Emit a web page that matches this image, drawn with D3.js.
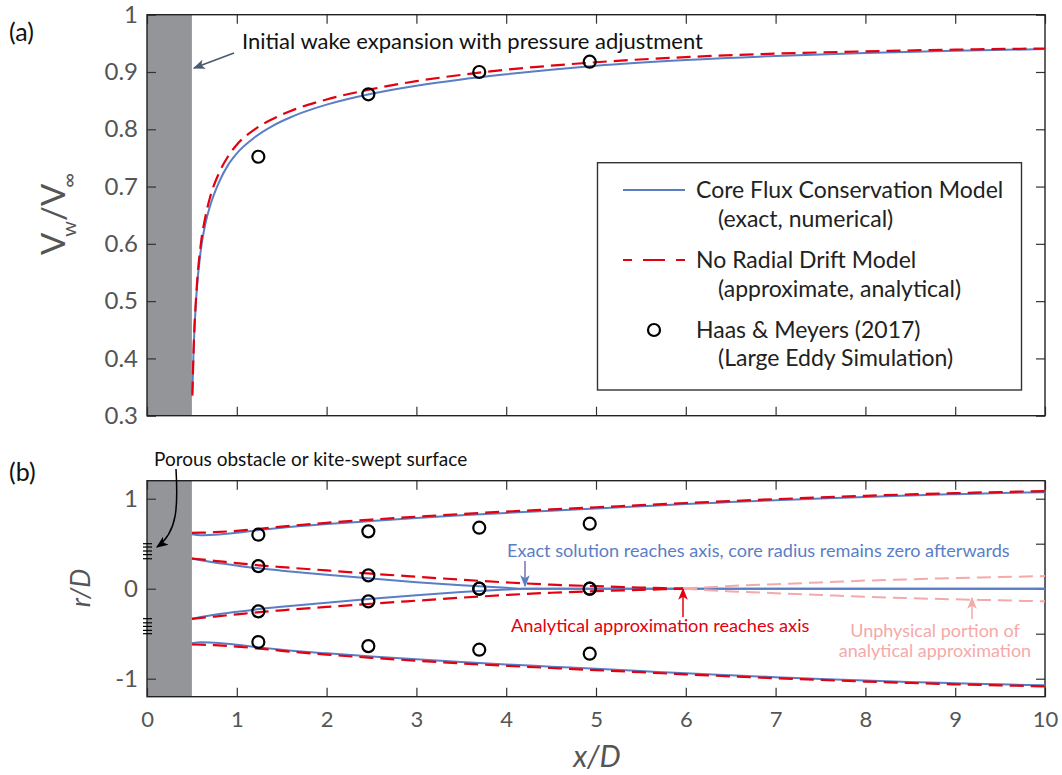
<!DOCTYPE html>
<html>
<head>
<meta charset="utf-8">
<script src="https://cdn.jsdelivr.net/npm/d3@7"></script>
<style>
body { margin: 0; background: #fff; }
svg text { font-family: Lato, 'Open Sans', sans-serif; }
</style>
</head>
<body>
<script>
// values
let xTicks = [0, 1, 2, 3, 4, 5, 6, 7, 8, 9, 10]
let aTicks = [0.3, 0.4, 0.5, 0.6, 0.7, 0.8, 0.9, 1]
let aTickLabels = ['0.3', '0.4', '0.5', '0.6', '0.7', '0.8', '0.9', '1']
let bTicks = [-1, 0, 1]
let bTickLabels = ['-1', '0', '1']
let bTicksRight = [-1, -0.5, 0, 0.5, 1]

// (a) wake velocity ratio
let xA =       [0.505, 0.52, 0.55, 0.6, 0.65, 0.7, 0.8, 0.9, 1.0, 1.2, 1.4, 1.6, 1.8, 2.0, 2.5, 3.0, 3.5, 4.0, 4.5, 5.0, 6.0, 7.0, 8.0, 9.0, 10]
let vCore =    [0.34, 0.42, 0.51, 0.59, 0.635, 0.665, 0.707, 0.737, 0.758, 0.786, 0.806, 0.821, 0.833, 0.843, 0.862, 0.876, 0.887, 0.896, 0.904, 0.911, 0.921, 0.928, 0.933, 0.937, 0.94]
let vNoDrift = [0.335, 0.42, 0.515, 0.6, 0.647, 0.68, 0.723, 0.752, 0.773, 0.8, 0.818, 0.832, 0.843, 0.852, 0.87, 0.884, 0.895, 0.904, 0.911, 0.917, 0.926, 0.932, 0.936, 0.939, 0.941]

// LES points (Haas & Meyers 2017)
let lesX =      [1.24, 2.465, 3.7, 4.93]
let lesV =      [0.752, 0.861, 0.9, 0.918]
let lesWakeUp = [0.6, 0.637, 0.678, 0.722]
let lesCoreUp = [0.251, 0.148, 0, 0]
let lesCoreLo = [-0.252, -0.141, 0, 0]
let lesWakeLo = [-0.593, -0.638, -0.678, -0.722]

// (b) wake radius (outer) and core radius (inner)
let xB =           [0.5, 0.6, 0.75, 1, 1.25, 1.5, 2, 2.5, 3, 3.5, 4, 4.5, 5, 5.5, 6, 6.5, 7, 7.5, 8, 8.5, 9, 9.5, 10]
let rWakeCore =    [0.605, 0.594, 0.6, 0.622, 0.652, 0.678, 0.718, 0.752, 0.785, 0.815, 0.842, 0.866, 0.89, 0.915, 0.94, 0.962, 0.983, 1.002, 1.02, 1.036, 1.05, 1.062, 1.073]
let rWakeNoDrift = [0.62, 0.622, 0.628, 0.643, 0.665, 0.69, 0.732, 0.768, 0.8, 0.83, 0.857, 0.881, 0.905, 0.928, 0.952, 0.974, 0.995, 1.014, 1.032, 1.048, 1.062, 1.074, 1.085]

let xCoreC = [0.5, 0.6, 0.75, 1, 1.25, 1.5, 2, 2.5, 3, 3.5, 4, 4.2, 10]
let rCoreC = [0.335, 0.315, 0.29, 0.257, 0.226, 0.2, 0.155, 0.112, 0.072, 0.037, 0.01, 0, 0]
let xCoreN = [0.5, 0.75, 1, 1.25, 1.5, 2, 2.5, 3, 3.5, 4, 4.5, 5, 5.5, 5.97]
let rCoreN = [0.335, 0.31, 0.285, 0.26, 0.24, 0.203, 0.167, 0.133, 0.1, 0.07, 0.045, 0.028, 0.013, 0]
let xUnphys = [5.97, 6.5, 7, 7.5, 8, 8.5, 9, 9.5, 10]
let rUnphys = [0, -0.03, -0.05, -0.07, -0.09, -0.105, -0.118, -0.129, -0.14]

// porous disk marks
let hatchR = [0.5, 0.463, 0.419, 0.379, 0.333]

let BLUE = '#5a7ec6'
let RED = '#e3000f'
let PALE = '#f5a9a9'
let GREY = '#939598'
let TICKTXT = '#555'

let svg = d3.select('body').append('svg').attr('width', 1062).attr('height', 775)
let defs = svg.append('defs')

function marker(id, color) {
	defs.append('marker').attr('id', id)
		.attr('viewBox', '0 0 10 10').attr('refX', 9).attr('refY', 5)
		.attr('markerWidth', 12).attr('markerHeight', 12)
		.attr('markerUnits', 'userSpaceOnUse').attr('orient', 'auto')
		.append('path').attr('d', 'M0,1 L10,5 L0,9 L2.5,5 Z').attr('fill', color)
}
marker('arSlate', '#4b5a6e')
marker('arBlack', '#000')
marker('arBlue', BLUE)
marker('arRed', RED)
marker('arPale', PALE)

let x = d3.scaleLinear().domain([0, 10]).range([147, 1045])
let yA = d3.scaleLinear().domain([0.3, 1]).range([415.7, 14.7])
let yB = d3.scaleLinear().domain([-1.2, 1.2]).range([696.7, 480.7])

function pts(xs, ys) { return xs.map((v, i) => [v, ys[i]]) }

function panel(y, leftTicks, leftLabels, rightTicks, showX) {
	let y0 = y.range()[0], y1 = y.range()[1]
	let g = svg.append('g')
	g.append('rect').attr('x', x(0)).attr('y', y1).attr('width', x(0.5) - x(0)).attr('height', y0 - y1)
		.attr('fill', GREY)

	let bottom = g.append('g').attr('transform', `translate(0,${y0})`)
		.call(d3.axisBottom(x).tickValues(xTicks).tickSize(-9).tickPadding(15)
			.tickFormat(showX ? d3.format('d') : () => ''))
	let top = g.append('g').attr('transform', `translate(0,${y1})`)
		.call(d3.axisTop(x).tickValues(xTicks).tickSize(-9).tickFormat(() => ''))
	let left = g.append('g').attr('transform', `translate(${x(0)},0)`)
		.call(d3.axisLeft(y).tickValues(leftTicks).tickSize(-9).tickPadding(9).tickFormat((d, i) => leftLabels[i]))
	let right = g.append('g').attr('transform', `translate(${x(10)},0)`)
		.call(d3.axisRight(y).tickValues(rightTicks).tickSize(-9).tickFormat(() => ''))

	;[bottom, top, left, right].forEach(a => {
		a.select('.domain').remove()
		a.selectAll('.tick line').attr('stroke', '#333').attr('stroke-width', 1.2)
		a.selectAll('.tick text').attr('fill', TICKTXT).style('font-size', '24px')
	})
	bottom.selectAll('.tick text').style('font-size', '22px')

	g.append('rect').attr('x', x(0)).attr('y', y1).attr('width', x(10) - x(0)).attr('height', y0 - y1)
		.attr('fill', 'none').attr('stroke', '#222').attr('stroke-width', 1.4)
	return g
}

panel(yA, aTicks, aTickLabels, aTicks, false)
panel(yB, bTicks, bTickLabels, bTicksRight, true)

let lineA = d3.line().x(d => x(d[0])).y(d => yA(d[1])).curve(d3.curveMonotoneX)
let lineB = d3.line().x(d => x(d[0])).y(d => yB(d[1])).curve(d3.curveMonotoneX)

function draw(gen, data, color, dash, w = 2) {
	svg.append('path').attr('d', gen(data)).attr('fill', 'none')
		.attr('stroke', color).attr('stroke-width', w)
		.attr('stroke-dasharray', dash)
}
let neg = a => a.map(v => -v)

// panel (a)
draw(lineA, pts(xA, vCore), BLUE, null, 2)
draw(lineA, pts(xA, vNoDrift), RED, '14,7', 2.2)
svg.append('g').selectAll('circle').data(pts(lesX, lesV)).join('circle')
	.attr('cx', d => x(d[0])).attr('cy', d => yA(d[1])).attr('r', 6)
	.attr('fill', 'none').attr('stroke', '#000').attr('stroke-width', 2.2)

// panel (b)
draw(lineB, pts(xB, rWakeCore), BLUE, null, 2)
draw(lineB, pts(xB, neg(rWakeCore)), BLUE, null, 2)
draw(lineB, pts(xCoreC, rCoreC), BLUE, null, 2)
draw(lineB, pts(xCoreC, neg(rCoreC)), BLUE, null, 2)
draw(lineB, pts(xB, rWakeNoDrift), RED, '14,7', 2.2)
draw(lineB, pts(xB, neg(rWakeNoDrift)), RED, '14,7', 2.2)
draw(lineB, pts(xCoreN, rCoreN), RED, '14,7', 2.2)
draw(lineB, pts(xCoreN, neg(rCoreN)), RED, '14,7', 2.2)
draw(lineB, pts(xUnphys, rUnphys), PALE, '14,7', 2)
draw(lineB, pts(xUnphys, neg(rUnphys)), PALE, '14,7', 2)

let lesB = [].concat(pts(lesX, lesWakeUp), pts(lesX, lesCoreUp), pts(lesX, lesCoreLo), pts(lesX, lesWakeLo))
svg.append('g').selectAll('circle').data(lesB).join('circle')
	.attr('cx', d => x(d[0])).attr('cy', d => yB(d[1])).attr('r', 6)
	.attr('fill', 'none').attr('stroke', '#000').attr('stroke-width', 2.2)

// porous disk hatch
svg.append('g').selectAll('line').data(hatchR.concat(neg(hatchR))).join('line')
	.attr('x1', 143).attr('x2', 152).attr('y1', d => yB(d)).attr('y2', d => yB(d))
	.attr('stroke', '#000').attr('stroke-width', 1.2)

// axis labels
let ylab = svg.append('text').attr('transform', 'translate(65,214) rotate(-90)')
	.attr('text-anchor', 'middle').attr('fill', TICKTXT)
ylab.append('tspan').style('font-size', '33px').text('V')
ylab.append('tspan').style('font-size', '20px').attr('dy', 11).attr('dx', -4).text('w')
ylab.append('tspan').style('font-size', '33px').attr('dy', -11).text('/V')
ylab.append('tspan').style('font-size', '20px').attr('dy', 11).attr('dx', -4).text('∞')

svg.append('text').attr('transform', 'translate(90,588) rotate(-90)')
	.attr('text-anchor', 'middle').attr('fill', TICKTXT)
	.style('font-size', '27px').style('font-style', 'italic').text('r/D')
svg.append('text').attr('x', 597).attr('y', 767)
	.attr('text-anchor', 'middle').attr('fill', TICKTXT)
	.style('font-size', '30px').style('font-style', 'italic').text('x/D')

svg.append('text').attr('x', 9).attr('y', 41).style('font-size', '25px').attr('fill', '#111').text('(a)')
svg.append('text').attr('x', 9).attr('y', 481).style('font-size', '25px').attr('fill', '#111').text('(b)')

// legend
let lg = svg.append('g')
lg.append('rect').attr('x', 597.5).attr('y', 162.7).attr('width', 424).attr('height', 227.3)
	.attr('fill', '#fff').attr('stroke', '#333').attr('stroke-width', 1.4)
lg.append('line').attr('x1', 623).attr('x2', 685).attr('y1', 190).attr('y2', 190)
	.attr('stroke', BLUE).attr('stroke-width', 2)
lg.append('line').attr('x1', 623).attr('x2', 685).attr('y1', 260).attr('y2', 260)
	.attr('stroke', RED).attr('stroke-width', 2.2).attr('stroke-dasharray', '22,11').attr('stroke-dashoffset', 13)
lg.append('circle').attr('cx', 654).attr('cy', 330).attr('r', 6)
	.attr('fill', 'none').attr('stroke', '#000').attr('stroke-width', 2.2)
let legRows = [
	['Core Flux Conservation Model', 696, 190], ['(exact, numerical)', 718, 219],
	['No Radial Drift Model', 696, 260], ['(approximate, analytical)', 718, 289],
	['Haas & Meyers (2017)', 696, 330], ['(Large Eddy Simulation)', 718, 358]
]
lg.selectAll('text.leg').data(legRows).join('text').attr('class', 'leg')
	.attr('x', d => d[1]).attr('y', d => d[2]).attr('dy', '0.36em')
	.style('font-size', '23px').attr('fill', '#222').text(d => d[0])

// annotations
svg.append('text').attr('x', 242).attr('y', 49).style('font-size', '22px').attr('fill', '#111')
	.text('Initial wake expansion with pressure adjustment')
svg.append('line').attr('x1', 234).attr('y1', 53).attr('x2', 194).attr('y2', 68)
	.attr('stroke', '#4b5a6e').attr('stroke-width', 1.5).attr('marker-end', 'url(#arSlate)')

svg.append('text').attr('x', 154).attr('y', 466).style('font-size', '19px').attr('fill', '#111')
	.text('Porous obstacle or kite-swept surface')
svg.append('path').attr('d', 'M176,469 C178,505 178,532 157,547').attr('fill', 'none')
	.attr('stroke', '#000').attr('stroke-width', 1.5).attr('marker-end', 'url(#arBlack)')

svg.append('text').attr('x', 507).attr('y', 557).style('font-size', '18.1px').attr('fill', BLUE)
	.text('Exact solution reaches axis, core radius remains zero afterwards')
svg.append('line').attr('x1', 525).attr('y1', 561).attr('x2', 525).attr('y2', 586)
	.attr('stroke', '#7d72aa').attr('stroke-width', 1.5).attr('marker-end', 'url(#arBlue)')

svg.append('text').attr('x', 511).attr('y', 632).style('font-size', '18.2px').attr('fill', RED)
	.text('Analytical approximation reaches axis')
svg.append('line').attr('x1', 683).attr('y1', 617).attr('x2', 683).attr('y2', 589)
	.attr('stroke', RED).attr('stroke-width', 1.5).attr('marker-end', 'url(#arRed)')

svg.append('text').attr('x', 935).attr('y', 637).attr('text-anchor', 'middle').style('font-size', '18px').attr('fill', PALE)
	.text('Unphysical portion of')
svg.append('text').attr('x', 935).attr('y', 657).attr('text-anchor', 'middle').style('font-size', '18px').attr('fill', PALE)
	.text('analytical approximation')
svg.append('line').attr('x1', 972).attr('y1', 619).attr('x2', 972).attr('y2', 598)
	.attr('stroke', PALE).attr('stroke-width', 1.5).attr('marker-end', 'url(#arPale)')
</script>
</body>
</html>
